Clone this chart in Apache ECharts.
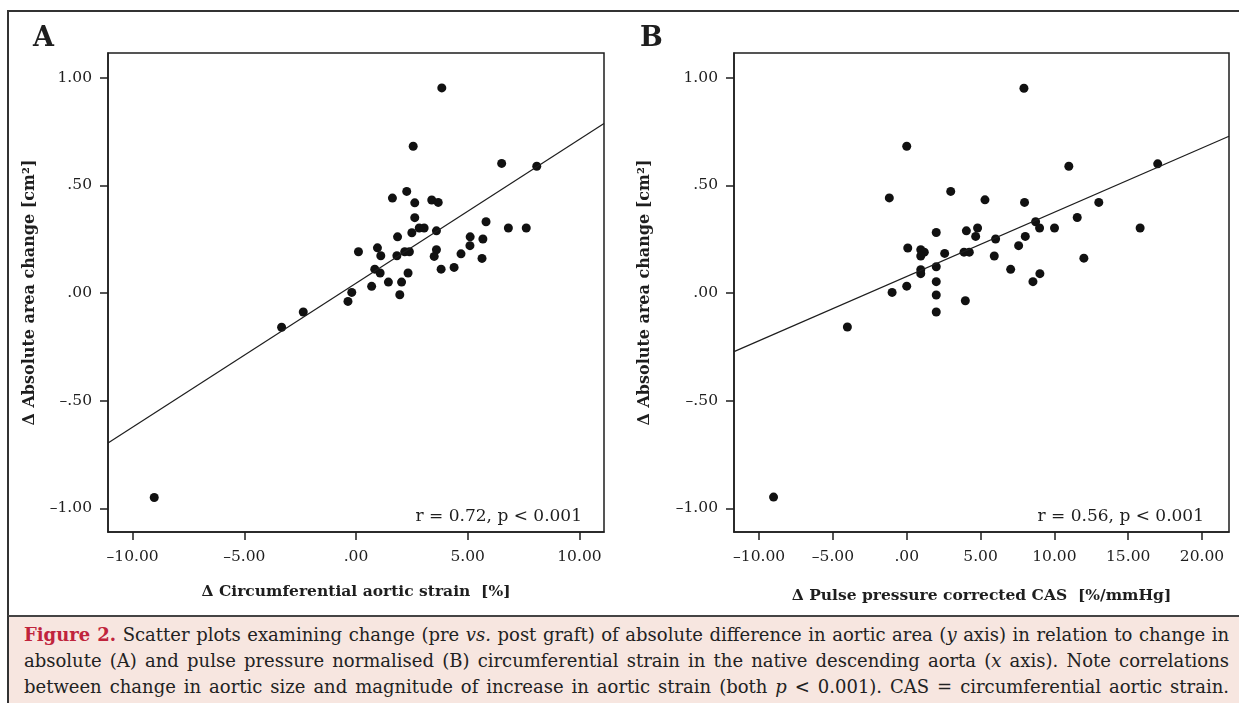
<!DOCTYPE html>
<html>
<head>
<meta charset="utf-8">
<script src="https://cdn.jsdelivr.net/npm/echarts@6/dist/echarts.min.js"></script>
<style>
  html, body { margin: 0; padding: 0; background: #fff; }
  body { width: 1239px; height: 703px; position: relative; overflow: hidden; }
  #chart { position: absolute; left: 0; top: 0; width: 1239px; height: 616px; }
  #frame { position: absolute; left: 7px; top: 10px; width: 1232px; height: 693px;
           border-top: 2px solid #333; border-left: 2px solid #333; box-sizing: border-box; pointer-events: none; }
  #caption { position: absolute; left: 7px; top: 615px; width: 1232px; height: 88px; box-sizing: border-box;
             background: #f7e6e0; border-top: 2px solid #444; border-left: 2px solid #333;
             padding: 5px 10px 0 15px; font-family: "DejaVu Serif", serif; font-size: 18px; color: #222; line-height: 26px; }
  #caption .ln { text-align: justify; text-align-last: justify; white-space: nowrap; }
  #caption .fig { color: #c0243c; font-weight: bold; }
</style>
</head>
<body>
<div id="chart"></div>
<div id="frame"></div>
<div id="caption">
  <div class="ln"><span class="fig">Figure 2.</span> Scatter plots examining change (pre <i>vs.</i> post graft) of absolute difference in aortic area (<i>y</i> axis) in relation to change in</div>
  <div class="ln">absolute (A) and pulse pressure normalised (B) circumferential strain in the native descending aorta (<i>x</i> axis). Note correlations</div>
  <div class="ln">between change in aortic size and magnitude of increase in aortic strain (both <i>p</i> &lt; 0.001). CAS = circumferential aortic strain.</div>
</div>
<script>
// ---- Data ----
const aX = [3.84, 2.56, 6.52, 8.09, 2.27, 1.63, 3.39, 3.68, 2.63, 2.63, 5.82, 2.83, 3.05, 6.82, 7.62, 3.60, 2.50, 1.86, 5.11, 5.68, 5.10, 0.96, 0.11, 2.18, 2.39, 3.60, 1.11, 1.83, 3.50, 4.70, 5.64, 0.84, 3.81, 4.39, 1.08, 2.33, 1.45, 2.04, 0.70, -0.19, 1.96, -0.36, -2.36, -3.33, -9.03];
const aY = [0.953, 0.682, 0.602, 0.589, 0.472, 0.441, 0.432, 0.421, 0.419, 0.350, 0.331, 0.302, 0.302, 0.302, 0.302, 0.289, 0.280, 0.261, 0.261, 0.251, 0.220, 0.210, 0.192, 0.192, 0.192, 0.201, 0.173, 0.173, 0.170, 0.182, 0.161, 0.111, 0.111, 0.119, 0.093, 0.093, 0.051, 0.051, 0.031, 0.003, -0.008, -0.039, -0.088, -0.159, -0.950];
const bX = [7.94, 0.00, 10.98, 17.00, 2.98, -1.18, 5.30, 7.98, 13.01, 11.55, 8.73, 9.00, 10.01, 15.81, 4.80, 4.04, 2.00, 4.67, 8.03, 6.02, 7.58, 0.07, 0.95, 1.19, 2.57, 3.88, 4.24, 0.95, 5.93, 12.00, 7.04, 2.00, 0.95, 0.95, 9.02, 2.00, 8.55, 0.00, -0.99, 2.00, 3.97, 2.00, -4.02, -9.02];
const bY = [0.951, 0.682, 0.589, 0.600, 0.472, 0.442, 0.433, 0.421, 0.421, 0.351, 0.331, 0.302, 0.302, 0.302, 0.302, 0.289, 0.281, 0.263, 0.263, 0.251, 0.220, 0.209, 0.201, 0.190, 0.184, 0.190, 0.190, 0.172, 0.172, 0.162, 0.110, 0.122, 0.108, 0.090, 0.090, 0.053, 0.053, 0.032, 0.003, -0.009, -0.036, -0.088, -0.158, -0.948];
// fit line end points as read at the plot edges
const fitAX = [-11.1, 11.1];
const fitAY = [-0.697, 0.787];
const fitBX = [-11.7, 21.83];
const fitBY = [-0.272, 0.728];
const xTicksA = [-10, -5, 0, 5, 10];
const xTicksB = [-10, -5, 0, 5, 10, 15, 20];
const yTicks = [-1, -0.5, 0, 0.5, 1];
const panelLabels = ['A', 'B'];
const xNames = ['\u0394 Circumferential aortic strain  [%]', '\u0394 Pulse pressure corrected CAS  [%/mmHg]'];
const yName = '\u0394 Absolute area change [cm\u00B2]';
const stats = ['r = 0.72, p < 0.001', 'r = 0.56, p < 0.001'];

// ---- Chart ----
const FONT = '"DejaVu Serif", "Liberation Serif", serif';
const INK = '#1e1e1e';
function fmt(v) {
  if (Math.abs(v) < 1e-9) return '.00';
  let s = Math.abs(v).toFixed(2);
  if (Math.abs(v) < 1) s = s.slice(1);
  return (v < 0 ? '\u2013' : '') + s;
}
const zip = (xs, ys) => xs.map((x, i) => [x, ys[i]]);

function xAxis(idx, min, max, ticks, name, gap) {
  return {
    type: 'value', gridIndex: idx, min: min, max: max,
    axisLine: { show: true, onZero: false, lineStyle: { color: INK, width: 1.5 } },
    axisTick: { show: true, inside: false, length: 8, customValues: ticks, lineStyle: { color: INK, width: 1.5 } },
    axisLabel: { customValues: ticks, formatter: fmt, margin: 17, fontFamily: FONT, fontSize: 15.5, color: INK },
    splitLine: { show: false },
    name: name, nameLocation: 'middle', nameGap: gap,
    nameTextStyle: { fontFamily: FONT, fontWeight: 'bold', fontSize: 15.5, color: INK }
  };
}
function yAxis(idx, gap) {
  return {
    type: 'value', gridIndex: idx, min: -1.11, max: 1.115,
    axisLine: { show: true, onZero: false, lineStyle: { color: INK, width: 1.5 } },
    axisTick: { show: true, inside: false, length: 8, customValues: yTicks, lineStyle: { color: INK, width: 1.5 } },
    axisLabel: { customValues: yTicks, formatter: fmt, margin: 16, fontFamily: FONT, fontSize: 15.5, color: INK },
    splitLine: { show: false },
    name: yName, nameLocation: 'middle', nameGap: gap,
    nameTextStyle: { fontFamily: FONT, fontWeight: 'bold', fontSize: 16, color: INK }
  };
}

const chart = echarts.init(document.getElementById('chart'), null, { renderer: 'canvas' });
chart.setOption({
  backgroundColor: '#fff',
  animation: false,
  grid: [
    { left: 108, top: 53, width: 496, height: 479, show: true, borderColor: INK, borderWidth: 1.5, backgroundColor: 'transparent' },
    { left: 734, top: 53, width: 495, height: 479, show: true, borderColor: INK, borderWidth: 1.5, backgroundColor: 'transparent' }
  ],
  xAxis: [
    xAxis(0, -11.1, 11.1, xTicksA, xNames[0], 52),
    xAxis(1, -11.7, 21.83, xTicksB, xNames[1], 56)
  ],
  yAxis: [yAxis(0, 70), yAxis(1, 81)],
  graphic: [
    { type: 'text', left: 33, top: 25, style: { text: panelLabels[0], fontFamily: FONT, fontWeight: 'bold', fontSize: 27, fill: INK } },
    { type: 'text', left: 640, top: 25, style: { text: panelLabels[1], fontFamily: FONT, fontWeight: 'bold', fontSize: 27, fill: INK } },
    { type: 'text', right: 1239 - 582, top: 508, style: { text: stats[0], fontFamily: FONT, fontSize: 17, fill: INK } },
    { type: 'text', right: 1239 - 1204, top: 508, style: { text: stats[1], fontFamily: FONT, fontSize: 17, fill: INK } }
  ],
  series: [
    { type: 'scatter', xAxisIndex: 0, yAxisIndex: 0, data: zip(aX, aY), symbolSize: 9, itemStyle: { color: '#111', opacity: 1 }, silent: true },
    { type: 'line', xAxisIndex: 0, yAxisIndex: 0, data: zip(fitAX, fitAY), showSymbol: false, lineStyle: { color: INK, width: 1.2 }, silent: true },
    { type: 'scatter', xAxisIndex: 1, yAxisIndex: 1, data: zip(bX, bY), symbolSize: 9, itemStyle: { color: '#111', opacity: 1 }, silent: true },
    { type: 'line', xAxisIndex: 1, yAxisIndex: 1, data: zip(fitBX, fitBY), showSymbol: false, lineStyle: { color: INK, width: 1.2 }, silent: true }
  ]
});
</script>
</body>
</html>
